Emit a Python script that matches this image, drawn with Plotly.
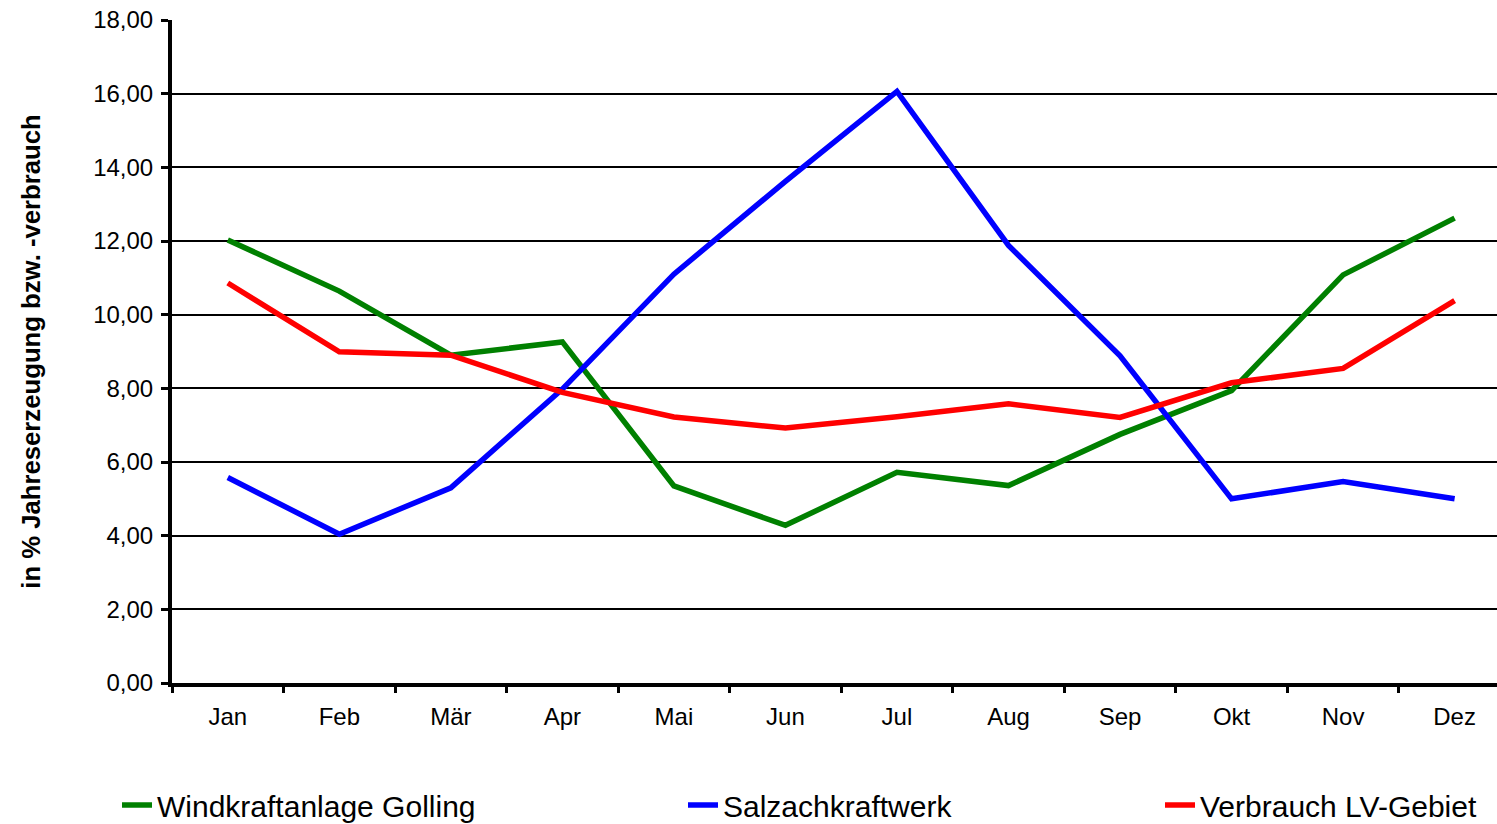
import plotly.graph_objects as go

months = ["Jan", "Feb", "Mär", "Apr", "Mai", "Jun", "Jul", "Aug", "Sep", "Okt", "Nov", "Dez"]
wind = [12.03, 10.64, 8.90, 9.26, 5.35, 4.28, 5.72, 5.36, 6.75, 7.94, 11.08, 12.62]
salzach = [5.58, 4.04, 5.30, 7.98, 11.10, 13.62, 16.06, 11.88, 8.88, 5.00, 5.47, 5.00]
verbrauch = [10.86, 8.99, 8.90, 7.89, 7.22, 6.92, 7.23, 7.58, 7.21, 8.15, 8.54, 10.38]

names = ["Windkraftanlage Golling", "Salzachkraftwerk", "Verbrauch LV-Gebiet"]
colors = ["#008000", "#0000FF", "#FF0000"]
series = [wind, salzach, verbrauch]
legends = ["legend", "legend2", "legend3"]

FONT = "Arial, Liberation Sans, sans-serif"

fig = go.Figure()
for name, col, vals, lg in zip(names, colors, series, legends):
    fig.add_trace(go.Scatter(
        x=months, y=vals, mode="lines", name=name,
        line=dict(color=col, width=5.5), legend=lg,
    ))

W, H = 1497, 824
L, T, B = 172, 20, 141

# legend text start positions (px) in reference
text_x = [158, 724, 1201]
legend_y_px = 805


def legend_cfg(tx):
    return dict(
        orientation="h", xref="container", yref="container",
        x=(tx - 41) / W, y=(H - legend_y_px) / H,
        xanchor="left", yanchor="middle",
        font=dict(family=FONT, size=30, color="black"),
        bgcolor="rgba(0,0,0,0)", itemwidth=30,
    )


fig.update_layout(
    width=W, height=H,
    margin=dict(l=L, r=0, t=T, b=B, autoexpand=False),
    paper_bgcolor="white", plot_bgcolor="white",
    separators=",.",
    showlegend=True,
    font=dict(family=FONT, size=24, color="black"),
    legend=legend_cfg(text_x[0]),
    legend2=legend_cfg(text_x[1]),
    legend3=legend_cfg(text_x[2]),
    xaxis=dict(
        type="category", range=[-0.5, 11.38],
        tickson="boundaries", ticks="outside", ticklen=6, tickwidth=3, tickcolor="black",
        showline=True, linecolor="black", linewidth=4,
        showgrid=False, tickfont=dict(size=24), ticklabelstandoff=9,
    ),
    yaxis=dict(
        range=[0, 18], dtick=2, tickformat=".2f",
        ticks="outside", ticklen=7, tickwidth=3, tickcolor="black",
        showline=True, linecolor="black", linewidth=4,
        showgrid=True, gridcolor="black", gridwidth=1.5, zeroline=False,
        tickfont=dict(size=24), ticklabelstandoff=3,
        title=dict(text="<b>in % Jahreserzeugung bzw. -verbrauch</b>",
                   font=dict(size=25.7), standoff=46),
    ),
)

fig.write_html("out.html", config={"displayModeBar": False},
               post_script="document.body.style.margin='0';document.body.style.overflow='hidden';")
